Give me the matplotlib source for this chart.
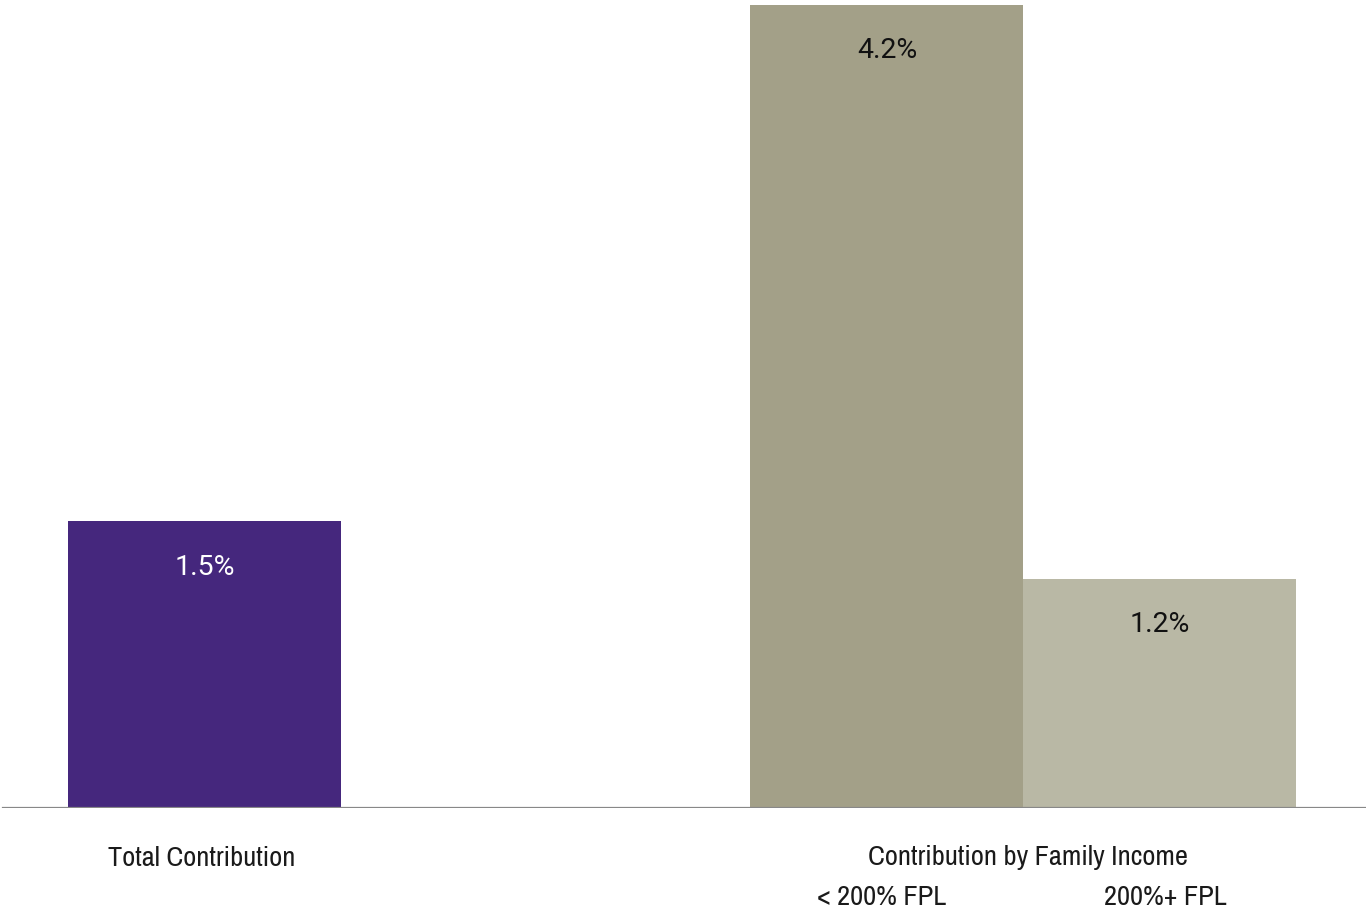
import matplotlib.pyplot as plt
from matplotlib import font_manager
from matplotlib.font_manager import FontProperties
from matplotlib.transforms import blended_transform_factory

# chart data
bar_labels = ["Total Contribution", "< 200% FPL", "200%+ FPL"]
values = [1.5, 4.2, 1.2]
value_text = ["1.5%", "4.2%", "1.2%"]
group_title = "Contribution by Family Income"

colors = ["#45277D", "#A3A088", "#B9B8A5"]
text_colors = ["white", "#111111", "#111111"]
positions = [0.0, 2.5, 3.5]


def find_narrow_font():
    # look for a condensed / narrow face among the installed fonts
    for key in ["Liberation Sans Narrow", "Narrow", "Condensed"]:
        for f in font_manager.fontManager.ttflist:
            if key in f.name or key.replace(" ", "") in f.fname:
                if "Bold" not in f.fname and "Oblique" not in f.fname and "Italic" not in f.fname:
                    return f.fname
    return None


narrow = find_narrow_font()
if narrow:
    label_prop = FontProperties(fname=narrow, size=20.5)
else:
    label_prop = FontProperties(family="Roboto", size=17)

fig = plt.figure(figsize=(13.66, 9.10), dpi=100)
ax = fig.add_axes([0.0, 102 / 910, 1.0, 808 / 910])

ax.bar(positions, values, width=1.0, color=colors, edgecolor="none", zorder=2)

ax.set_xlim(-0.749, 4.2546)
ax.set_ylim(0, 4.226)

for x, v, t, c in zip(positions, values, value_text, text_colors):
    ax.annotate(t, xy=(x, v), xytext=(0, -33), textcoords="offset points",
                ha="center", va="center", fontsize=20.5, color=c,
                family=["Roboto", "DejaVu Sans"], zorder=3)

# axis line
ax.axhline(0, xmin=0.002, xmax=1.0, color="#888888", linewidth=1.6, zorder=3)

for s in ax.spines.values():
    s.set_visible(False)
ax.set_xticks([])
ax.set_yticks([])

trans = blended_transform_factory(ax.transData, ax.transAxes)
ax.text(positions[0] - 0.01, -50 / 808, bar_labels[0], transform=trans, ha="center",
        va="center", color="#1A1A1A", fontproperties=label_prop)
ax.text((positions[1] + positions[2]) / 2 + 0.015, -50 / 808, group_title, transform=trans,
        ha="center", va="center", color="#1A1A1A", fontproperties=label_prop)
for x, lab, dx in zip(positions[1:], bar_labels[1:], [-0.018, 0.018]):
    ax.text(x + dx, -89.5 / 808, lab, transform=trans, ha="center", va="center",
            color="#1A1A1A", fontproperties=label_prop)

fig.savefig("out.png", dpi=100)
